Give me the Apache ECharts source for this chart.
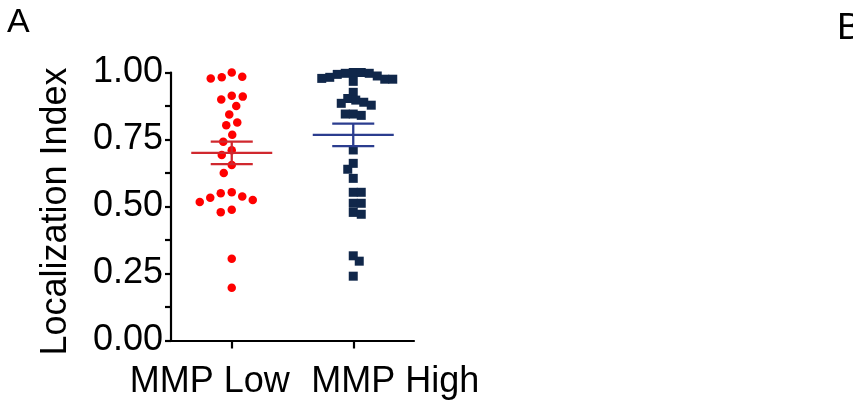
<!DOCTYPE html>
<html>
<head>
<meta charset="utf-8">
<script src="https://cdn.jsdelivr.net/npm/echarts@6/dist/echarts.min.js"></script>
<style>html,body{margin:0;padding:0;background:#fff;}#c{width:853px;height:405px;}</style>
</head>
<body>
<div id="c"></div>
<script>
// ---- data ----
const categories = ['MMP Low', 'MMP High'];
const lowValues = [1.0, 0.984, 0.982, 0.978, 0.913, 0.910, 0.899, 0.875, 0.843, 0.813, 0.803,
  0.768, 0.742, 0.710, 0.692, 0.655, 0.625, 0.553, 0.549, 0.537, 0.533, 0.524, 0.517,
  0.488, 0.479, 0.305, 0.197];
const highValues = [1.0, 1.0, 0.997, 0.997, 0.993, 0.987, 0.982, 0.978, 0.975, 0.975, 0.967,
  0.926, 0.903, 0.897, 0.889, 0.885, 0.878, 0.845, 0.845, 0.840, 0.711, 0.661, 0.639, 0.605,
  0.553, 0.553, 0.512, 0.512, 0.478, 0.471, 0.316, 0.296, 0.240];
const groupMeans = [0.700, 0.767];
const groupSems = [0.042, 0.042];
const yTickValues = [0, 0.25, 0.5, 0.75, 1.0];
const yAxisTitle = 'Localization Index';

// ---- styles ----
const FONT = '"Liberation Sans", Arial, sans-serif';
const dotColors = ['#ff0000', '#10274a'];
const meanColors = ['#d0282e', '#2b3d8f'];
const labelStyleKeys = ['lo', 'hi'];

const chart = echarts.init(document.getElementById('c'), null, {renderer: 'canvas'});

function swarm(values, pxPerUnit, d) {
  const placed = [];
  const offs = new Array(values.length);
  const order = values.map((v, i) => i).sort((a, b) => values[b] - values[a]);
  order.forEach((i, k) => {
    const y = -values[i] * pxPerUnit;
    let best = null;
    for (let dx = 0; dx < 300 && best === null; dx += 0.5) {
      const sides = (k % 2) ? [dx, -dx] : [-dx, dx];
      for (const x of sides) {
        if (placed.every(p => (p.x - x) * (p.x - x) + (p.y - y) * (p.y - y) >= d * d)) { best = x; break; }
      }
    }
    placed.push({x: best, y: y});
    offs[i] = best;
  });
  return offs;
}

function buildOption(lowOff, highOff) {
  const mk = (vals, ci, offs) => vals.map((v, i) => ({value: [ci, v], symbolOffset: [offs ? offs[i] : 0, 0]}));
  const labelFont = {color: '#000', fontSize: 36, fontFamily: FONT};
  return {
    animation: false,
    backgroundColor: '#fff',
    graphic: [
      {type: 'text', left: 7, top: 6, style: {text: 'A', font: '34px ' + FONT, fill: '#000'}},
      {type: 'text', left: 837, top: 10, style: {text: 'B', font: '37px ' + FONT, fill: '#000'}}
    ],
    grid: {left: 171, top: 72.5, width: 243, height: 268},
    xAxis: {
      type: 'category',
      data: categories,
      boundaryGap: true,
      axisLine: {show: true, lineStyle: {color: '#000', width: 2.2}},
      axisTick: {show: true, alignWithLabel: true, length: 8, lineStyle: {color: '#000', width: 2.2}},
      axisLabel: {
        color: '#000', fontSize: 36, fontFamily: FONT, margin: 24, interval: 0,
        formatter: (v, i) => '{' + labelStyleKeys[i] + '|' + v + '}',
        rich: {
          lo: Object.assign({padding: [0, 44, 0, 0]}, labelFont),
          hi: Object.assign({padding: [0, 0, 0, 84]}, labelFont)
        }
      },
      splitLine: {show: false}
    },
    yAxis: {
      type: 'value',
      min: yTickValues[0],
      max: yTickValues[yTickValues.length - 1],
      interval: yTickValues[1] - yTickValues[0],
      name: yAxisTitle,
      nameLocation: 'middle',
      nameRotate: 90,
      nameGap: 97,
      nameTextStyle: {color: '#000', fontSize: 36, fontFamily: FONT, padding: [0, 10, 0, 0]},
      axisLine: {show: true, lineStyle: {color: '#000', width: 2.2}},
      axisTick: {show: true, length: 6, lineStyle: {color: '#000', width: 2.2}},
      minorTick: {show: true, splitNumber: 2, length: 6, lineStyle: {color: '#000', width: 2.2}},
      axisLabel: {color: '#000', fontSize: 36, fontFamily: FONT, margin: 8, formatter: v => v.toFixed(2)},
      splitLine: {show: false}
    },
    series: [
      {type: 'scatter', symbol: 'circle', symbolSize: 8.5, itemStyle: {color: dotColors[0], opacity: 1}, data: mk(lowValues, 0, lowOff), z: 2},
      {type: 'scatter', symbol: 'rect', symbolSize: 9, itemStyle: {color: dotColors[1], opacity: 1}, data: mk(highValues, 1, highOff), z: 2},
      {
        type: 'custom', z: 5,
        data: groupMeans.map((m, i) => [i, m, groupSems[i]]),
        renderItem: function (params, api) {
          const c = api.value(0), m = api.value(1), s = api.value(2);
          const p = api.coord([c, m]);
          const t = api.coord([c, m + s]);
          const b = api.coord([c, m - s]);
          const bw = api.size([1, 0])[0];
          const half = bw / 3, cap = bw * 0.173;
          const st = {stroke: meanColors[params.dataIndex], lineWidth: 2.3};
          return {type: 'group', children: [
            {type: 'line', shape: {x1: p[0] - half, y1: p[1], x2: p[0] + half, y2: p[1]}, style: st},
            {type: 'line', shape: {x1: p[0], y1: t[1], x2: p[0], y2: b[1]}, style: st},
            {type: 'line', shape: {x1: p[0] - cap, y1: t[1], x2: p[0] + cap, y2: t[1]}, style: st},
            {type: 'line', shape: {x1: p[0] - cap, y1: b[1], x2: p[0] + cap, y2: b[1]}, style: st}
          ]};
        }
      }
    ]
  };
}

chart.setOption(buildOption(null, null));
const pxPerUnit = chart.convertToPixel({yAxisIndex: 0}, 0) - chart.convertToPixel({yAxisIndex: 0}, 1);
const lowOff = swarm(lowValues, pxPerUnit, 11);
const highOff = swarm(highValues, pxPerUnit, 8);
chart.setOption(buildOption(lowOff, highOff), true);
</script>
</body>
</html>
